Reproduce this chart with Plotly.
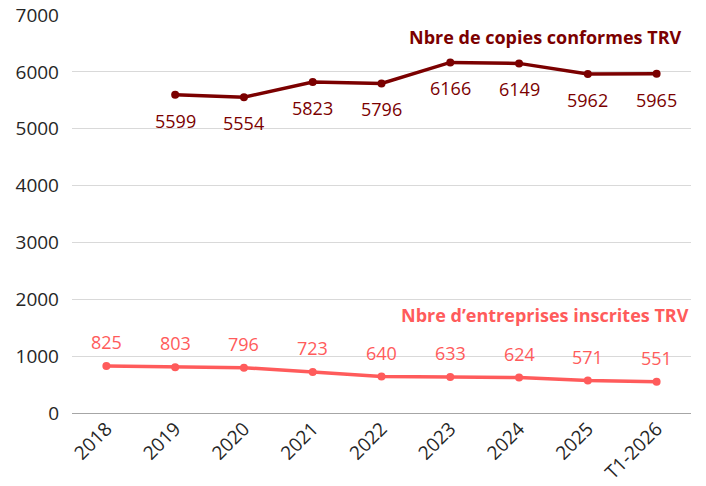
import plotly.graph_objects as go

categories = ["2018", "2019", "2020", "2021", "2022", "2023", "2024", "2025", "T1-2026"]
copies = [None, 5599, 5554, 5823, 5796, 6166, 6149, 5962, 5965]
entreprises = [825, 803, 796, 723, 640, 633, 624, 571, 551]
y_ticks = [0, 1000, 2000, 3000, 4000, 5000, 6000, 7000]

dark = "#7b0000"
light = "#ff5b5b"
font = "Open Sans"

fig = go.Figure()
fig.add_trace(go.Scatter(
    x=categories, y=copies, mode="lines+markers",
    line=dict(color=dark, width=3.5), marker=dict(color=dark, size=8),
    connectgaps=False, showlegend=False, cliponaxis=False,
))
fig.add_trace(go.Scatter(
    x=categories, y=entreprises, mode="lines+markers",
    line=dict(color=light, width=3.5), marker=dict(color=light, size=8),
    showlegend=False, cliponaxis=False,
))

for i, v in enumerate(copies):
    if v is None:
        continue
    fig.add_annotation(x=i, y=v, text=str(v), showarrow=False, yshift=-26,
                       yanchor="middle", font=dict(family=font, size=18, color=dark))
for i, v in enumerate(entreprises):
    fig.add_annotation(x=i, y=v, text=str(v), showarrow=False, yshift=24,
                       yanchor="middle", font=dict(family=font, size=18, color=light))

fig.add_annotation(
    x=1, xref="paper", xanchor="right", y=6620, yref="y", yanchor="middle",
    text="<b>Nbre de copies conformes TRV</b>", showarrow=False,
    font=dict(family=font, size=18, color=dark), xshift=-7,
)
fig.add_annotation(
    x=1, xref="paper", xanchor="right", y=1720, yref="y", yanchor="middle",
    text="<b>Nbre d’entreprises inscrites TRV</b>", showarrow=False,
    font=dict(family=font, size=18, color=light),
)

fig.update_layout(
    width=706, height=486,
    margin=dict(l=72, r=15, t=15, b=73),
    plot_bgcolor="white", paper_bgcolor="white",
    font=dict(family=font, size=18, color="#262626"),
    xaxis=dict(
        type="category", tickangle=-45, showgrid=False, automargin=False,
        showline=False, ticks="", tickfont=dict(size=19, color="#262626"),
        range=[-0.5, len(categories) - 0.5], ticklabeloverflow="allow",
    ),
    yaxis=dict(
        range=[0, 7000], tickvals=y_ticks, showgrid=True, gridcolor="#d9d9d9",
        gridwidth=1, zeroline=True, zerolinecolor="#a6a6a6", zerolinewidth=1,
        showline=False, ticks="", automargin=False, ticklabelstandoff=12,
        ticklabeloverflow="allow",
        tickfont=dict(size=19, color="#262626"),
    ),
)

fig.write_html("out.html", config={"displayModeBar": False},
               post_script="document.body.style.margin='0px';")
